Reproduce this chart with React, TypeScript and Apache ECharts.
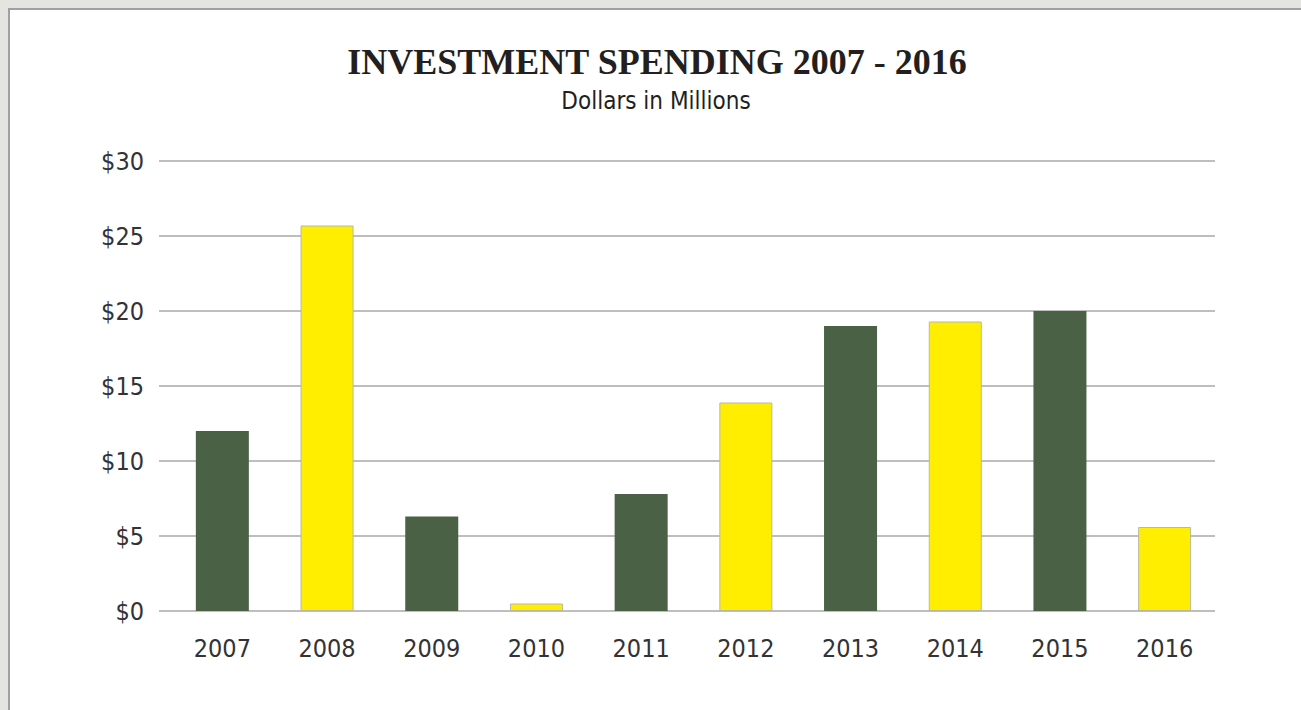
import React, { useEffect, useRef } from "react";
import * as echarts from "echarts";

const years = ["2007", "2008", "2009", "2010", "2011", "2012", "2013", "2014", "2015", "2016"];
const spending = [12, 25.7, 6.3, 0.5, 7.8, 13.9, 19, 19.3, 20, 5.6];
const barColors = ["#4a6145", "#ffee00"];
const yTicks = { min: 0, max: 30, interval: 5 };
const titleText = "INVESTMENT SPENDING 2007 - 2016";
const subtitleText = "Dollars in Millions";

const NARROW = "'Liberation Sans Narrow', 'DejaVu Sans Condensed', 'Roboto', sans-serif";

export default function App() {
  const ref = useRef<HTMLDivElement>(null);
  useEffect(() => {
    if (!ref.current) return;
    const chart = echarts.init(ref.current, undefined, { renderer: "svg" });
    chart.setOption({
      animation: false,
      backgroundColor: "transparent",
      grid: [
        { left: 159, right: 86, top: 161, bottom: 99 },
        { left: 170, right: 84, top: 161, bottom: 99 },
      ],
      xAxis: [
        { gridIndex: 0, type: "value", min: 0, max: 1, show: false },
        {
          gridIndex: 1,
          type: "category",
          data: years,
          axisLine: { show: false },
          axisTick: { show: false },
          axisLabel: { fontFamily: NARROW, fontSize: 25, color: "#333333", margin: 25 },
        },
      ],
      yAxis: [
        {
          gridIndex: 0,
          type: "value",
          min: yTicks.min,
          max: yTicks.max,
          interval: yTicks.interval,
          axisLine: { show: false },
          axisTick: { show: false },
          axisLabel: {
            fontFamily: NARROW,
            fontSize: 25,
            color: "#333333",
            margin: 15,
            formatter: (v: number) => "$" + v,
          },
          splitLine: { lineStyle: { color: "#a8a8a8", width: 1.5 } },
        },
        {
          gridIndex: 1,
          type: "value",
          min: yTicks.min,
          max: yTicks.max,
          interval: yTicks.interval,
          show: false,
          splitLine: { show: false },
        },
      ],
      series: [
        {
          type: "bar",
          xAxisIndex: 1,
          yAxisIndex: 1,
          barWidth: 53,
          data: spending.map((v, i) => ({
            value: v,
            itemStyle:
              i % 2 === 0
                ? { color: barColors[0] }
                : { color: barColors[1], borderColor: "#b8b8a8", borderWidth: 1 },
          })),
        },
      ],
      graphic: [
        {
          type: "text",
          x: 657,
          y: 62,
          style: {
            text: titleText,
            font: "bold 36px 'Liberation Serif', 'DejaVu Serif', serif",
            fill: "#231f20",
            align: "center",
            verticalAlign: "middle",
          },
        },
        {
          type: "text",
          x: 656,
          y: 101,
          style: {
            text: subtitleText,
            font: "24px " + NARROW,
            fill: "#231f20",
            align: "center",
            verticalAlign: "middle",
          },
        },
      ],
    });
    return () => chart.dispose();
  }, []);

  return (
    <div style={{ position: "fixed", left: 0, top: 0, width: 1301, height: 710, background: "#e4e4e0", overflow: "hidden" }}>
      <div
        style={{
          position: "absolute",
          left: 8,
          top: 8,
          width: 1400,
          height: 800,
          background: "#ffffff",
          border: "2px solid #a0a0a0",
        }}
      />
      <div ref={ref} style={{ position: "absolute", left: 0, top: 0, width: 1301, height: 710 }} />
    </div>
  );
}
